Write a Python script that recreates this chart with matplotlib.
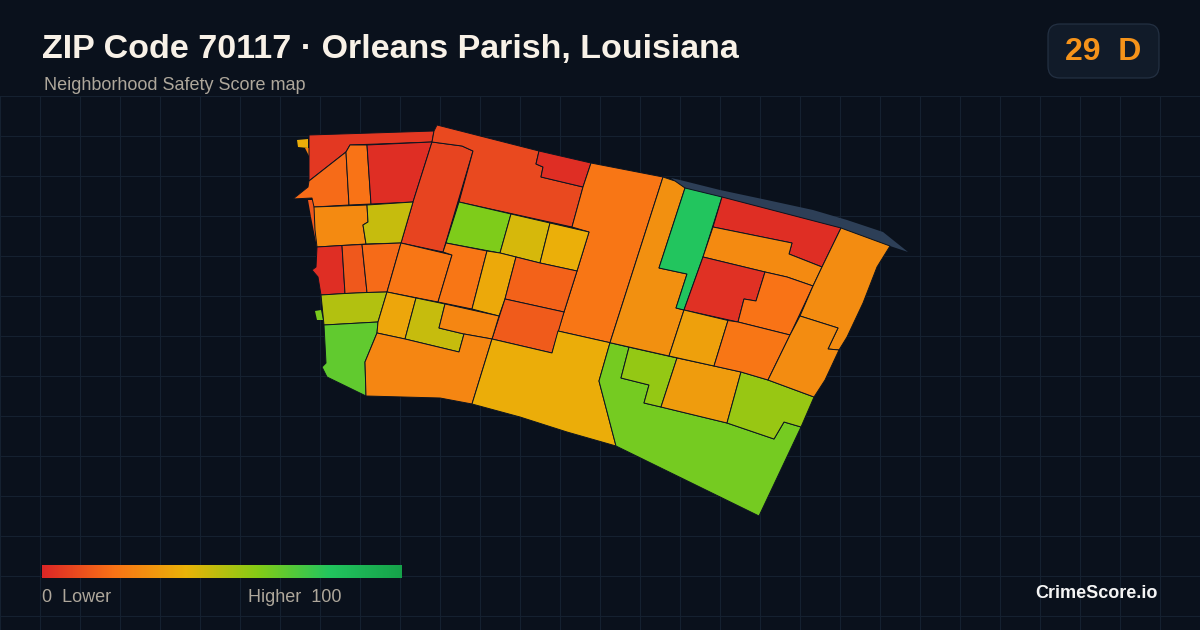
import numpy as np
import matplotlib
matplotlib.use("Agg")
import matplotlib.pyplot as plt
from matplotlib.colors import LinearSegmentedColormap
from matplotlib.patches import Polygon, FancyBboxPatch

plt.rcParams['font.family'] = ['Liberation Sans', 'DejaVu Sans']

BG = '#0a111c'
GRID = '#152130'
TITLE = "ZIP Code 70117 · Orleans Parish, Louisiana"
SUBTITLE = "Neighborhood Safety Score map"
SCORE_TEXT = "29  D"
LEGEND_LEFT = "0  Lower"
LEGEND_RIGHT = "Higher  100"
BRAND = "CrimeScore.io"

color_stops = [0, 20, 40, 60, 80, 100]
color_hex = ['#dc2626', '#f97316', '#eab308', '#84cc16', '#22c55e', '#16a34a']

# Water sliver along the north-east edge (map outline in picture units)
water = [(671,178),(680,180),(720,190),(767,200),(813,210),(847,220),(883,232),(908,252),
         (890,246),(841,228),(722,197),(685,188)]

# Block outlines
bit_a = [(297,140),(308,139),(308,148),(298,147)]
bit_b = [(305,148),(309,148),(309,156)]
bit_c = [(308,200),(314,200),(315,230),(317,247),(311,217)]
bit_d = [(315,311),(321,310),(323,320),(317,320)]
a = [(309,135),(434,131),(432,142),(350,145),(346,152),(309,181)]
b = [(309,181),(346,152),(349,205),(314,207),(312,198),(293,199),(308,187)]
c = [(346,152),(350,145),(367,145),(371,204),(349,205)]
d = [(367,145),(432,142),(413,202),(371,204)]
e = [(432,142),(462,146),(473,151),(443,252),(401,243),(413,202)]
f = [(437,125),(539,151),(536,164),(543,167),(541,177),(583,187),(572,227),(459,202),(473,151),(462,146),(432,142),(434,131)]
g = [(539,151),(591,163),(583,187),(541,177),(543,167),(536,164)]
h = [(591,163),(663,177),(610,342.7),(558,331),(564,312),(577,271),(589,232),(572,227),(583,187)]
i = [(459,202),(511,214),(500,253),(446,243)]
j = [(511,214),(550,223),(540,263),(500,253)]
k = [(550,223),(589,232),(577,271),(540,263)]
l = [(314,207),(367,205),(368,222),(363,225),(366,244),(317,247),(315,230)]
m = [(367,205),(413,202),(401,243),(366,244),(363,225),(368,222)]
n = [(317,247),(342,245.5),(345,293.5),(321,295),(318,277),(312,270),(316,267)]
o = [(342,245.5),(362,244.5),(367,292.5),(345,293.5)]
p = [(362,244.5),(401,243),(387,292),(367,292.5)]
q = [(401,243),(452,255),(438,302),(387,292)]
r = [(443,252),(446,243),(487,251),(472,309),(438,302),(452,255)]
s = [(487,251),(500,253),(516,257),(505,299),(499,316),(472,309)]
t = [(516,257),(540,263),(577,271),(564,312),(505,299)]
u = [(505,299),(564,312),(552,353),(492,339)]
v = [(321,295),(345,293.5),(367,292.5),(387,292),(378,322),(324,325)]
w = [(324,325),(378,322),(377,333),(365,362),(366,396),(327,377),(322,367),(326,363)]
x = [(387,292),(416,298),(405,339),(377,333),(378,322)]
y = [(416,298),(445,304),(439,328),(464,334),(459,352),(405,339)]
z = [(445,304),(499,316),(492,339),(464,334),(439,328)]
aa = [(377,333),(405,339),(459,352),(464,334),(492,339),(472,404),(440,398),(366,396),(365,362)]
ab = [(492,339),(552,353),(558,331),(610,342.7),(599,381),(616,446),(567,432),(520,417),(472,404)]
ac = [(610,342.7),(629,347.2),(621,378),(649,385),(644,403),(661,407),(727,423),(774,439),(784,422),(801,427),(759,516),(616,446),(599,381)]
ad = [(629,347.2),(677,358),(661,407),(644,403),(649,385),(621,378)]
ae = [(677,358),(714,366),(741,372),(727,423),(661,407)]
af = [(741,372),(768,380),(814,397),(801,427),(784,422),(774,439),(727,423)]
ag = [(663,177),(675,181),(685,188),(659,268),(687,274),(676,308),(684,310),(669,356),(610,342.7)]
ah = [(685,188),(722,197),(703,257),(684,310),(676,308),(687,274),(659,268)]
ai = [(722,197),(841,228),(822,267),(789,254),(792,243),(713,227)]
aj = [(713,227),(792,243),(789,254),(822,267),(813,286),(787,277),(765,272),(703,257)]
ak = [(703,257),(765,272),(756,301),(744,299),(738,322),(684,310)]
al = [(765,272),(787,277),(813,286),(790,335),(738,322),(744,299),(756,301)]
am = [(684,310),(728,320.5),(714,366),(669,356)]
an = [(728,320.5),(738,322),(790,335),(768,380),(741,372),(714,366)]
ao = [(841,228),(890,246),(877,267),(863,303),(847,337),(839,350),(828,349),(838,328),(800,316),(813,286),(822,267)]
ap = [(800,316),(838,328),(828,349),(839,350),(825,380),(814,397),(768,380),(790,335)]

blocks = [bit_a, bit_b, bit_c, bit_d, a, b, c, d, e, f, g, h, i, j, k, l, m, n, o, p, q, r, s, t, u,
          v, w, x, y, z, aa, ab, ac, ad, ae, af, ag, ah, ai, aj, ak, al, am, an, ao, ap]
scores = [38, 24, 13, 62, 5, 18, 20, 2, 8, 9, 2, 21, 61, 44, 39, 27, 47, 2, 13, 18, 21, 21, 37, 16, 14,
          51, 67, 36, 47, 26, 26, 38, 63, 57, 33, 56, 29, 80, 2, 27, 3, 20, 34, 21, 28, 28]
# Edgeless slivers on the outline (first four blocks)
edgeless = [bit_a, bit_b, bit_c, bit_d]

cmap = LinearSegmentedColormap.from_list('safety', [(s_/100, c_) for s_, c_ in zip(color_stops, color_hex)])

fig = plt.figure(figsize=(12, 6.3), dpi=100, facecolor=BG)
ax = fig.add_axes([0, 0, 1, 1], facecolor=BG)
ax.set_xlim(0, 1200)
ax.set_ylim(630, 0)
ax.set_xticks(np.arange(0, 1201, 40))
ax.set_yticks(np.arange(16, 630, 40))
ax.grid(True, color=GRID, lw=0.8, zorder=0)
ax.tick_params(left=False, bottom=False, labelleft=False, labelbottom=False)
for sp in ax.spines.values():
    sp.set_visible(False)
ax.set_axisbelow(True)

# Header band hides the grid
ax.axhspan(0, 95.5, color=BG, lw=0, zorder=1)

ax.add_patch(Polygon(water, closed=True, fc='#2d3f57', ec='none', zorder=2))
for blk, sc in zip(blocks, scores):
    edge = 'none' if any(blk is q_ for q_ in edgeless) else '#0c1420'
    ax.add_patch(Polygon(blk, closed=True, fc=cmap(sc/100), ec=edge, lw=0.7, joinstyle='miter', zorder=3))

ax.text(42, 49.5, TITLE, color='#f8f1e7', fontsize=24.5, fontweight='bold', va='center', ha='left', zorder=5)
ax.text(44, 85.5, SUBTITLE, color='#aea79b', fontsize=12.95, va='center', ha='left', zorder=5)

ax.add_patch(FancyBboxPatch((1060, 36), 87, 30, boxstyle='round,pad=12,rounding_size=12',
                            fc='#111b29', ec='#233042', lw=0.9, zorder=4))
ax.text(1103, 52, SCORE_TEXT, color='#f5931a', fontsize=23, fontweight='bold', va='center', ha='center', zorder=5)

ax.text(42, 597, LEGEND_LEFT, color='#aea79b', fontsize=12.95, va='center', ha='left', zorder=5)
ax.text(341, 597, LEGEND_RIGHT, color='#aea79b', fontsize=12.95, va='center', ha='right', zorder=5)
ax.text(1158, 593, BRAND, color='#f5f5f5', fontsize=13, fontweight='bold', va='center', ha='right', zorder=5)

cax = fig.add_axes([42/1200, 1-578/630, 360/1200, 13/630])
cax.imshow(np.linspace(0, 100, 512)[None, :], aspect='auto', cmap=cmap, vmin=0, vmax=100)
cax.axis('off')

fig.savefig('out.png', dpi=100, facecolor=BG)
